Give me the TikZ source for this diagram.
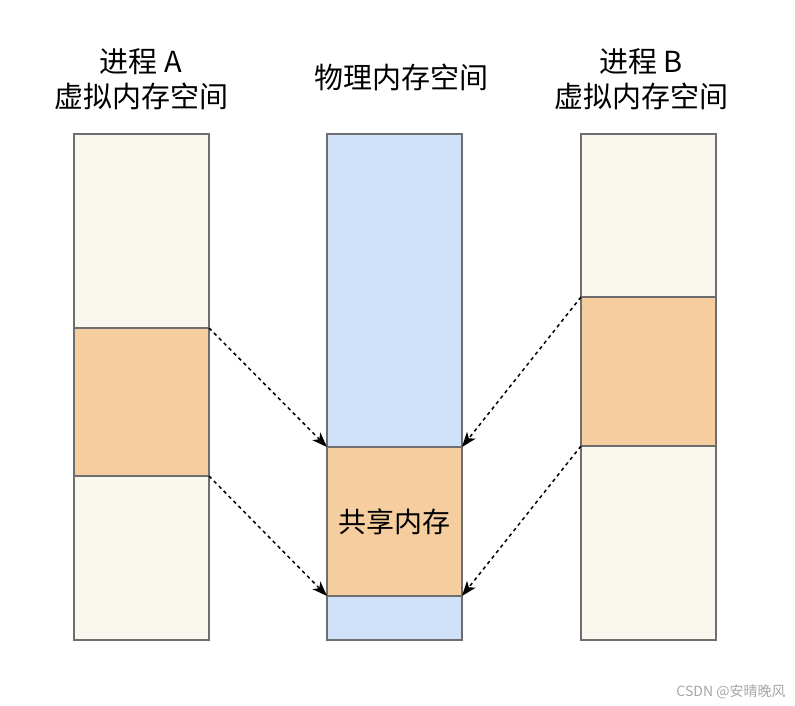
\documentclass[tikz,border=0pt]{standalone}
\usepackage{fontspec}
\setmainfont{Noto Sans CJK SC}
\usetikzlibrary{arrows.meta,positioning}
\definecolor{mCream}{HTML}{F9F7EE}
\definecolor{mBlue}{HTML}{CFE2FA}
\definecolor{mOrange}{HTML}{F6CD9E}
\definecolor{mEdge}{HTML}{6E6E6E}
\tikzset{
  seg/.style={draw=mEdge, line width=1.8pt, minimum width=135pt, inner sep=0pt, outer sep=0pt,
    font=\fontsize{28}{34}\selectfont},
  title/.style={align=center, font=\fontsize{29}{35}\selectfont},
  map/.style={-{Stealth[length=15pt,width=11pt,inset=4pt]}, dash pattern=on 3.5pt off 3.5pt, line width=1.5pt},
}

\begin{document}
\begin{tikzpicture}[x=1pt, y=-1pt]
    \useasboundingbox (0,0) rectangle (795,706);
    % Process A virtual memory
    \node[seg, fill=mCream, minimum height=194pt, anchor=north west] (aTop) at (74,134) {};
    \node[seg, fill=mOrange, minimum height=148pt, below=0pt of aTop] (aShared) {};
    \node[seg, fill=mCream, minimum height=164pt, below=0pt of aShared] (aBot) {};
    % Physical memory
    \node[seg, fill=mBlue, minimum height=313pt, anchor=north west] (mTop) at (327,134) {};
    \node[seg, fill=mOrange, minimum height=149pt, below=0pt of mTop] (mShared) {共享内存};
    \node[seg, fill=mBlue, minimum height=44pt, below=0pt of mShared] (mBot) {};
    % Process B virtual memory
    \node[seg, fill=mCream, minimum height=163pt, anchor=north west] (bTop) at (581,134) {};
    \node[seg, fill=mOrange, minimum height=149pt, below=0pt of bTop] (bShared) {};
    \node[seg, fill=mCream, minimum height=194pt, below=0pt of bShared] (bBot) {};
    % Titles
    \node[title] (aTitle) at (141,79) {进程 A\\虚拟内存空间};
    \node[title] (mTitle) at (401,77) {物理内存空间};
    \node[title] (bTitle) at (641,79) {进程 B\\虚拟内存空间};
    % Mappings
    \draw[map] (aShared.north east) -- (mShared.north west);
    \draw[map] (aShared.south east) -- (mShared.south west);
    \draw[map] (bShared.north west) -- (mShared.north east);
    \draw[map] (bShared.south west) -- (mShared.south east);
    % Watermark
    \node[gray!70, font=\fontsize{14}{16}\selectfont] (mark) at (731,692) {CSDN @安晴晚风};
\end{tikzpicture}
\end{document}
